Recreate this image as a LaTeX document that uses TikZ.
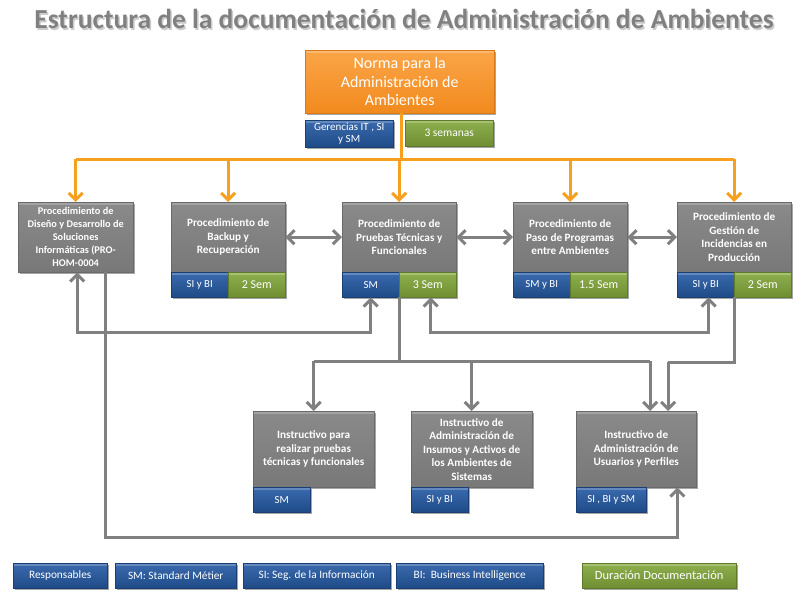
\documentclass[tikz,border=0pt]{standalone}
\usepackage{fontspec}
\setmainfont{Carlito}
\usetikzlibrary{arrows.meta,shadows}
\definecolor{boxgrayT}{HTML}{8A8A8A}
\definecolor{boxgrayB}{HTML}{787878}
\definecolor{boxgrayE}{HTML}{6A6A6A}
\definecolor{tagblueT}{HTML}{3A6AAE}
\definecolor{tagblueB}{HTML}{1F4B87}
\definecolor{tagblueE}{HTML}{1A3F72}
\definecolor{taggreenT}{HTML}{8FB04E}
\definecolor{taggreenB}{HTML}{6E8E32}
\definecolor{taggreenE}{HTML}{5E7A2A}
\definecolor{normaT}{HTML}{FBA548}
\definecolor{normaB}{HTML}{F18A1E}
\definecolor{normaE}{HTML}{D8791A}
\definecolor{linkorange}{HTML}{F7A01E}
\definecolor{linkgray}{HTML}{808080}
\definecolor{titlegray}{HTML}{808080}
\tikzset{
  boxshadow/.style={drop shadow={shadow xshift=1.5pt,shadow yshift=-1.5pt,opacity=0.35,fill=black}},
  bevel/.style={path picture={
    \fill[white,opacity=0.22] (path picture bounding box.north west) rectangle ([yshift=-3pt]path picture bounding box.north east);}},
  graybox/.style={rectangle,anchor=north west,inner sep=1pt,align=center,text=white,
    font=\bfseries\fontsize{11.2}{13.5}\selectfont,
    top color=boxgrayT,bottom color=boxgrayB,draw=boxgrayE,line width=0.4pt,boxshadow,bevel},
  bluetag/.style={rectangle,anchor=north west,inner sep=1pt,align=center,text=white,
    font=\fontsize{10.8}{12}\selectfont,
    top color=tagblueT,bottom color=tagblueB,draw=tagblueE,line width=0.4pt,boxshadow,bevel},
  greentag/.style={rectangle,anchor=north west,inner sep=1pt,align=center,text=white,
    font=\fontsize{12}{14}\selectfont,
    top color=taggreenT,bottom color=taggreenB,draw=taggreenE,line width=0.4pt,boxshadow,bevel},
  normabox/.style={rectangle,anchor=north west,inner sep=1pt,align=center,text=white,
    font=\fontsize{16}{18.5}\selectfont,
    top color=normaT,bottom color=normaB,draw=normaE,line width=0.4pt,boxshadow,bevel},
  titletext/.style={font=\bfseries\fontsize{27.5}{30}\selectfont},
  orangelink/.style={draw=linkorange,line width=3pt},
  orangearrow/.style={orangelink,-{Straight Barb[length=7pt,width=14pt,line width=3pt]}},
  graylink/.style={draw=linkgray,line width=3pt},
  grayarrow/.style={graylink,-{Straight Barb[length=7pt,width=14pt,line width=3pt]}},
  graydouble/.style={graylink,{Straight Barb[length=7pt,width=14pt,line width=3pt]}-{Straight Barb[length=7pt,width=14pt,line width=3pt]}},
}
\begin{document}
\begin{tikzpicture}[x=1pt,y=-1pt]
\useasboundingbox (0,0) rectangle (810,606);

% title with its soft shadow
\node[titletext,text=gray!40] (titleshadow) at (405.5,20.5) {Estructura de la documentación de Administración de Ambientes};
\node[titletext,text=titlegray] (title) at (404,19) {Estructura de la documentación de Administración de Ambientes};

% top norm and its tags
\node[normabox,minimum width=189pt,minimum height=63pt] (norma) at (305,50) {Norma para la\\Administración de\\Ambientes};
\node[bluetag,minimum width=88pt,minimum height=27pt,font=\fontsize{11}{12}\selectfont] (normaresp) at (305,120) {Gerencias IT , SI\\y SM};
\node[greentag,minimum width=88pt,minimum height=26pt,font=\fontsize{11.5}{13}\selectfont] (normadur) at (405,120) {3 semanas};

% procedures
\node[graybox,minimum width=115pt,minimum height=70pt,font=\bfseries\fontsize{10.3}{13}\selectfont] (b1) at (18,202) {Procedimiento de\\Diseño y Desarrollo de\\Soluciones\\Informáticas (PRO-\\HOM-0004};

\node[graybox,minimum width=114pt,minimum height=70pt] (b2) at (171,202) {Procedimiento de\\Backup y\\Recuperación};
\node[bluetag,minimum width=57pt,minimum height=25pt] (b2r) at (171,272) {SI y BI};
\node[greentag,minimum width=57pt,minimum height=25pt] (b2d) at (228,272) {2 Sem};

\node[graybox,minimum width=114pt,minimum height=70pt] (b3) at (342,202) {Procedimiento de\\Pruebas Técnicas y\\Funcionales};
\node[bluetag,minimum width=57pt,minimum height=25pt] (b3r) at (342,272) {SM};
\node[greentag,minimum width=57pt,minimum height=25pt] (b3d) at (399,272) {3 Sem};

\node[graybox,minimum width=114pt,minimum height=70pt] (b4) at (513,202) {Procedimiento de\\Paso de Programas\\entre Ambientes};
\node[bluetag,minimum width=57pt,minimum height=25pt] (b4r) at (513,272) {SM y BI};
\node[greentag,minimum width=57pt,minimum height=25pt] (b4d) at (570,272) {1.5 Sem};

\node[graybox,minimum width=114pt,minimum height=70pt] (b5) at (677,202) {Procedimiento de\\Gestión de\\Incidencias en\\Producción};
\node[bluetag,minimum width=57pt,minimum height=25pt] (b5r) at (677,272) {SI y BI};
\node[greentag,minimum width=57pt,minimum height=25pt] (b5d) at (734,272) {2 Sem};

% instructions
\node[graybox,minimum width=121pt,minimum height=76pt] (i1) at (253,411) {Instructivo para\\realizar pruebas\\técnicas y funcionales};
\node[bluetag,minimum width=57pt,minimum height=25pt] (i1r) at (253,487) {SM};

\node[graybox,minimum width=121pt,minimum height=76pt] (i2) at (411,411) {Instructivo de\\Administración de\\Insumos y Activos de\\los Ambientes de\\Sistemas};
\node[bluetag,minimum width=57pt,minimum height=25pt] (i2r) at (411,487) {SI y BI};

\node[graybox,minimum width=120pt,minimum height=76pt] (i3) at (576,411) {Instructivo de\\Administración de\\Usuarios y Perfiles};
\node[bluetag,minimum width=70pt,minimum height=25pt] (i3r) at (576,487) {SI , BI y SM};

% legend
\node[bluetag,minimum width=94pt,minimum height=25pt,font=\fontsize{11.3}{13}\selectfont] (lg1) at (13,563) {Responsables};
\node[bluetag,minimum width=121pt,minimum height=25pt,font=\fontsize{11.3}{13}\selectfont] (lg2) at (115,563) {SM: Standard Métier};
\node[bluetag,minimum width=147pt,minimum height=25pt,font=\fontsize{11.3}{13}\selectfont] (lg3) at (243,563) {SI: Seg. de la Información};
\node[bluetag,minimum width=147pt,minimum height=25pt,font=\fontsize{11.3}{13}\selectfont] (lg4) at (396,563) {BI:\ \ Business Intelligence};
\node[greentag,minimum width=154pt,minimum height=25pt,font=\fontsize{12.5}{14}\selectfont] (lg5) at (582,563) {Duración Documentación};

% routing levels
\coordinate (obar) at (401,159);
\coordinate (loopA) at (0,332);
\coordinate (busC) at (0,361);
\coordinate (busE) at (0,537);

% orange distribution from the norm
\draw[orangelink] (norma.south -| obar) -- (obar);
\draw[orangelink] (b1.north |- obar) -- (b5.north |- obar);
\foreach \b in {b1,b2,b3,b4,b5}
  \draw[orangearrow] (\b.north |- obar) -- (\b.north);

% links between neighbouring procedures
\draw[graydouble] (b2.east) -- (b3.west);
\draw[graydouble] (b3.east) -- (b4.west);
\draw[graydouble] (b4.east) -- (b5.west);

% feedback loops under the procedures
\draw[graydouble] ([xshift=1.5pt]b1.south) -- ([xshift=1.5pt]b1.south |- loopA) -| (b3r.south);
\draw[graydouble] ([xshift=3pt]b3d.south) -- ([xshift=3pt]b3d.south |- loopA) -| ([xshift=3pt]b5r.south);

% distribution to the instructions
\draw[graylink] (b3r.south east) -- (b3r.south east |- busC);
\draw[graylink] (i1.north |- busC) -- ([xshift=14pt]i3.north |- busC);
\draw[grayarrow] (i1.north |- busC) -- (i1.north);
\draw[grayarrow] (i2.north |- busC) -- (i2.north);
\draw[grayarrow] ([xshift=14pt]i3.north |- busC) -- ([xshift=14pt]i3.north);
\draw[graylink] (b5r.south east) -- ([yshift=-1pt]b5r.south east |- busC) -| ([xshift=32pt,yshift=-1pt]i3.north |- busC);
\draw[grayarrow] ([xshift=32pt,yshift=-1pt]i3.north |- busC) -- ([xshift=32pt]i3.north);

% long link from the design procedure
\draw[grayarrow] ([xshift=29.5pt]b1.south) -- ([xshift=29.5pt]b1.south |- busE) -| ([xshift=-19pt]i3.south east);
\end{tikzpicture}
\end{document}
